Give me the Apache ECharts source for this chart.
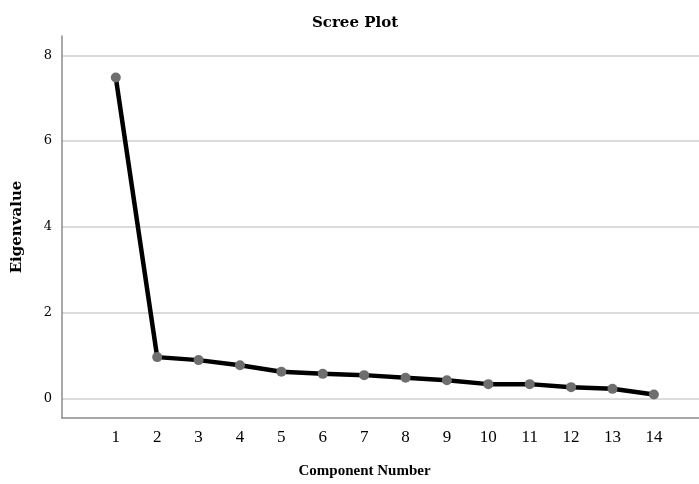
<!DOCTYPE html>
<html>
<head>
<meta charset="utf-8">
<script src="https://cdn.jsdelivr.net/npm/echarts@6/dist/echarts.min.js"></script>
<style>
  html, body { margin: 0; padding: 0; background: #fff; }
  #chart { width: 699px; height: 484px; }
</style>
</head>
<body>
<div id="chart"></div>
<script>
// Scree plot data
const components = [1, 2, 3, 4, 5, 6, 7, 8, 9, 10, 11, 12, 13, 14];
const eigenvalues = [7.48, 0.96, 0.89, 0.77, 0.62, 0.57, 0.54, 0.48, 0.42, 0.33, 0.33, 0.26, 0.22, 0.09];
const yTicks = [0, 2, 4, 6, 8];

const chartDom = document.getElementById('chart');
const myChart = echarts.init(chartDom, null, { renderer: 'canvas' });

const option = {
    animation: false,
    backgroundColor: '#fff',
    title: {
        text: 'Scree Plot',
        left: 307,
        top: 11,
        textStyle: {
            fontFamily: 'DejaVu Serif',
            fontWeight: 'bold',
            fontSize: 15,
            color: '#000'
        }
    },
    grid: { left: 62, right: 0, top: 36, bottom: 66 },
    xAxis: {
        type: 'value',
        min: -0.3,
        max: 15.09,
        name: 'Component Number',
        nameLocation: 'middle',
        nameGap: 46,
        nameTextStyle: {
            fontFamily: 'Liberation Serif',
            fontWeight: 'bold',
            fontSize: 15,
            color: '#000',
            padding: [0, 32, 0, 0]
        },
        axisLine: { onZero: false, lineStyle: { color: '#8c8c8c', width: 1.5 } },
        axisTick: { show: false },
        splitLine: { show: false },
        axisLabel: {
            customValues: components,
            margin: 11,
            fontFamily: 'Liberation Serif',
            fontSize: 17,
            color: '#000'
        }
    },
    yAxis: {
        type: 'value',
        min: -0.46,
        max: 8.45,
        name: 'Eigenvalue',
        nameLocation: 'middle',
        nameGap: 37,
        nameTextStyle: {
            fontFamily: 'DejaVu Serif',
            fontWeight: 'bold',
            fontSize: 15,
            color: '#000'
        },
        axisLine: { show: true, onZero: false, lineStyle: { color: '#8c8c8c', width: 1.5 } },
        axisTick: { show: false, customValues: yTicks },
        splitLine: { show: true, lineStyle: { color: '#cfcfcf', width: 1.5 } },
        axisLabel: {
            customValues: yTicks,
            margin: 10,
            fontFamily: 'DejaVu Serif',
            fontSize: 13,
            color: '#000'
        }
    },
    series: [
        {
            type: 'line',
            data: components.map((c, i) => [c, eigenvalues[i]]),
            lineStyle: { color: '#000', width: 4.5 },
            symbol: 'circle',
            symbolSize: 10,
            itemStyle: { color: '#6e6e6e' },
            z: 3
        }
    ]
};

myChart.setOption(option);
</script>
</body>
</html>
